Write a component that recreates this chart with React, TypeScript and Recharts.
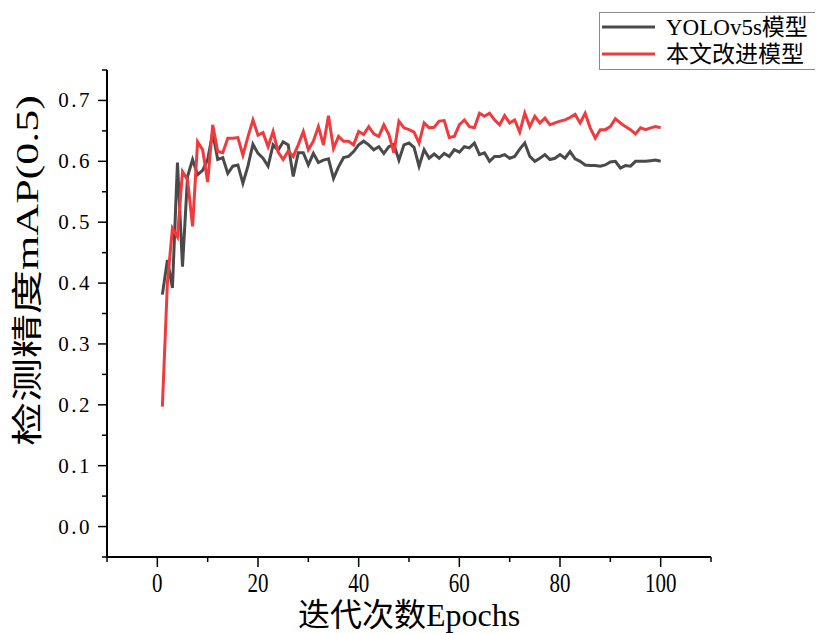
import React from 'react';
import { LineChart, Line, XAxis, YAxis, Legend, Label } from 'recharts';

const epochs = [
  1, 2, 3, 4, 5, 6, 7, 8, 9, 10, 11, 12, 13, 14, 15, 16, 17, 18, 19, 20,
  21, 22, 23, 24, 25, 26, 27, 28, 29, 30, 31, 32, 33, 34, 35, 36, 37, 38, 39, 40,
  41, 42, 43, 44, 45, 46, 47, 48, 49, 50, 51, 52, 53, 54, 55, 56, 57, 58, 59, 60,
  61, 62, 63, 64, 65, 66, 67, 68, 69, 70, 71, 72, 73, 74, 75, 76, 77, 78, 79, 80,
  81, 82, 83, 84, 85, 86, 87, 88, 89, 90, 91, 92, 93, 94, 95, 96, 97, 98, 99, 100,
];

const yolov5s = [
  0.381, 0.438, 0.392, 0.598, 0.427, 0.575, 0.603, 0.578, 0.585, 0.603,
  0.647, 0.603, 0.606, 0.580, 0.592, 0.594, 0.564, 0.592, 0.628, 0.613,
  0.605, 0.592, 0.627, 0.618, 0.632, 0.627, 0.575, 0.614, 0.614, 0.594,
  0.613, 0.598, 0.602, 0.604, 0.572, 0.591, 0.606, 0.608, 0.616, 0.627,
  0.633, 0.627, 0.619, 0.624, 0.613, 0.624, 0.628, 0.602, 0.627, 0.630,
  0.623, 0.592, 0.619, 0.605, 0.612, 0.605, 0.613, 0.608, 0.619, 0.615,
  0.624, 0.622, 0.630, 0.611, 0.614, 0.600, 0.608, 0.608, 0.611, 0.605,
  0.608, 0.620, 0.630, 0.608, 0.600, 0.605, 0.611, 0.603, 0.605, 0.611,
  0.605, 0.616, 0.604, 0.600, 0.594, 0.593, 0.593, 0.592, 0.594, 0.599,
  0.600, 0.589, 0.593, 0.592, 0.600, 0.600, 0.600, 0.601, 0.602, 0.600,
];

const improved = [
  0.197, 0.400, 0.490, 0.476, 0.583, 0.570, 0.493, 0.632, 0.619, 0.566,
  0.660, 0.616, 0.614, 0.638, 0.638, 0.639, 0.610, 0.640, 0.668, 0.643,
  0.647, 0.624, 0.649, 0.615, 0.603, 0.617, 0.608, 0.627, 0.649, 0.619,
  0.633, 0.657, 0.627, 0.675, 0.621, 0.641, 0.633, 0.633, 0.627, 0.649,
  0.644, 0.657, 0.645, 0.641, 0.660, 0.644, 0.614, 0.666, 0.655, 0.652,
  0.648, 0.630, 0.663, 0.655, 0.656, 0.666, 0.667, 0.639, 0.641, 0.660,
  0.668, 0.657, 0.655, 0.679, 0.674, 0.679, 0.668, 0.660, 0.675, 0.663,
  0.668, 0.648, 0.679, 0.657, 0.674, 0.663, 0.671, 0.660, 0.663, 0.666,
  0.668, 0.672, 0.677, 0.663, 0.679, 0.655, 0.638, 0.652, 0.652, 0.657,
  0.670, 0.663, 0.657, 0.652, 0.645, 0.655, 0.652, 0.655, 0.657, 0.655,
];

const xTicks = [-10, 0, 10, 20, 30, 40, 50, 60, 70, 80, 90, 100, 110];
const yTicks = [-0.05, 0, 0.05, 0.1, 0.15, 0.2, 0.25, 0.3, 0.35, 0.4, 0.45, 0.5, 0.55, 0.6, 0.65, 0.7, 0.75];

const seriesNames = ['YOLOv5s模型', '本文改进模型'];
const seriesKeys = ['yolo', 'ours'];
const seriesColors = ['#4a4a4a', '#f03a3e'];
const xLabel = '迭代次数Epochs';
const yLabel = '检测精度mAP(0.5)';

const FONT = '"Liberation Serif", "Noto Sans CJK SC", serif';

const data = epochs.map((e, i) => ({ epoch: e, yolo: yolov5s[i], ours: improved[i] }));

const XTick = (props: any) => {
  const { x, y, payload } = props;
  const v = payload.value;
  const major = v % 20 === 0;
  return (
    <g>
      <line x1={x} x2={x} y1={y} y2={y + (major ? 10 : 5)} stroke="#000" strokeWidth={1.5} />
      {major && (
        <text
          transform={`translate(${x},${y + 26}) scale(1,1.25)`}
          textAnchor="middle"
          dominantBaseline="central"
          fontFamily={FONT}
          fontSize={21}
          fill="#000"
        >
          {String(v)}
        </text>
      )}
    </g>
  );
};

const YTick = (props: any) => {
  const { x, y, payload } = props;
  const v = payload.value;
  const major = Math.round(v * 100) % 10 === 0;
  return (
    <g>
      <line x1={x} x2={x - (major ? 9 : 5)} y1={y} y2={y} stroke="#000" strokeWidth={1.5} />
      {major && (
        <text
          x={x - 15}
          y={y}
          textAnchor="end"
          dominantBaseline="central"
          fontFamily={FONT}
          fontSize={21}
          letterSpacing={2.5}
          fill="#000"
        >
          {v.toFixed(1)}
        </text>
      )}
    </g>
  );
};

const XLabelContent = (props: any) => {
  const vb = props.viewBox || { x: 107, y: 557, width: 604, height: 76 };
  return (
    <text
      x={vb.x + vb.width / 2}
      y={vb.y + 58}
      textAnchor="middle"
      dominantBaseline="central"
      fontFamily={FONT}
      fontSize={32}
      fill="#000"
    >
      {xLabel}
    </text>
  );
};

const YLabelContent = (props: any) => {
  const vb = props.viewBox || { x: 0, y: 70, width: 107, height: 487 };
  const cx = vb.x + 27;
  const cy = vb.y + vb.height / 2 - 43;
  return (
    <text
      transform={`translate(${cx},${cy}) scale(1,1.42) rotate(-90)`}
      textAnchor="middle"
      dominantBaseline="central"
      fontFamily={FONT}
      fontSize={31}
      fill="#000"
    >
      {yLabel}
    </text>
  );
};

const LegendContent = () => (
  <div
    style={{
      width: 216,
      height: 58,
      borderTop: '1px solid #8a8a8a',
      borderLeft: '1px solid #8a8a8a',
      borderBottom: '1px solid #8a8a8a',
      boxSizing: 'border-box',
      background: '#fff',
    }}
  >
    <svg width={215} height={56} style={{ display: 'block' }}>
      {seriesNames.map((name, i) => (
        <g key={name}>
          <line x1={2} x2={55} y1={14 + i * 27} y2={14 + i * 27} stroke={seriesColors[i]} strokeWidth={3} />
          <text
            x={66}
            y={14 + i * 27}
            dominantBaseline="central"
            fontFamily={FONT}
            fontSize={23}
            fill="#000"
          >
            {name}
          </text>
        </g>
      ))}
    </svg>
  </div>
);

export default function App() {
  return (
    <div style={{ position: 'absolute', left: 0, top: 0, width: 816, height: 633, overflow: 'hidden', background: '#fff' }}>
      <LineChart width={816} height={633} data={data} margin={{ top: 70, right: 105, bottom: 0, left: 0 }}>
        <XAxis
          dataKey="epoch"
          type="number"
          domain={[-10, 110]}
          ticks={xTicks}
          interval={0}
          height={76}
          tickSize={0}
          tickMargin={0}
          tickLine={false}
          axisLine={{ stroke: '#000', strokeWidth: 2 }}
          tick={XTick}
          allowDataOverflow
        >
          <Label content={XLabelContent} />
        </XAxis>
        <YAxis
          type="number"
          domain={[-0.05, 0.75]}
          ticks={yTicks}
          interval={0}
          width={107}
          tickSize={0}
          tickMargin={0}
          tickLine={false}
          axisLine={{ stroke: '#000', strokeWidth: 2 }}
          tick={YTick}
          allowDataOverflow
        >
          <Label content={YLabelContent} />
        </YAxis>
        <Legend
          layout="horizontal"
          verticalAlign="middle"
          align="center"
          content={LegendContent}
          wrapperStyle={{ position: 'absolute', left: 599, top: 12, width: 216, height: 58 }}
        />
        {seriesKeys.map((k, i) => (
          <Line
            key={k}
            type="linear"
            dataKey={k}
            name={seriesNames[i]}
            stroke={seriesColors[i]}
            strokeWidth={3}
            dot={false}
            activeDot={false}
            isAnimationActive={false}
          />
        ))}
      </LineChart>
    </div>
  );
}
